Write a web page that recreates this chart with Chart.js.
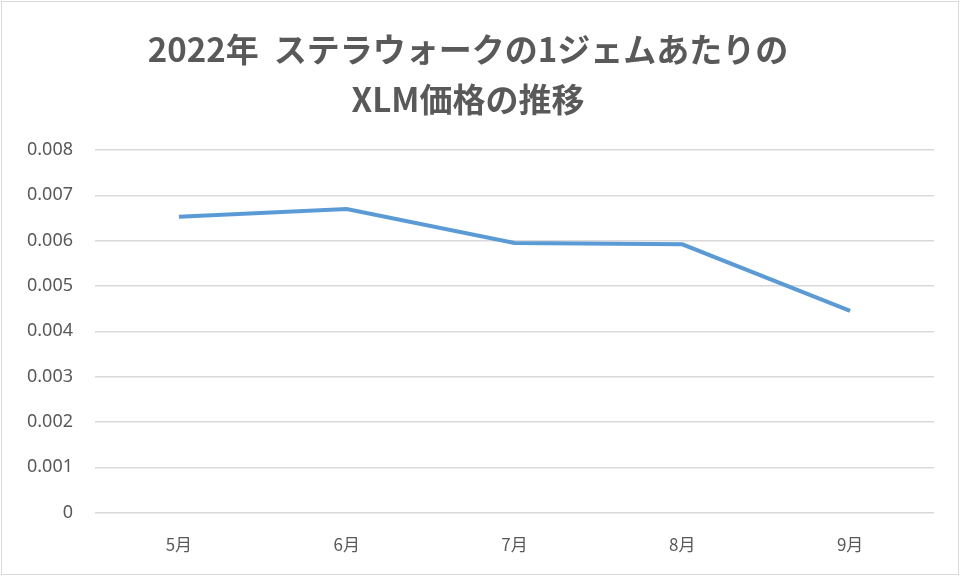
<!DOCTYPE html>
<html>
<head>
<meta charset="utf-8">
<script src="https://cdn.jsdelivr.net/npm/chart.js@4"></script>
<style>
  html, body { margin: 0; padding: 0; background: #fff; }
  #wrap { position: relative; width: 956px; height: 572px; border: 1px solid #d9d9d9; margin: 1px; }
</style>
</head>
<body>
<div id="wrap"><canvas id="xlmChart"></canvas></div>
<script>
// 2022年 ステラウォークの1ジェムあたりのXLM価格
const months = ['5月', '6月', '7月', '8月', '9月'];
const xlmPerGem = [0.00653, 0.0067, 0.00595, 0.00592, 0.00445];
const titleLines = ['2022年  ステラウォークの1ジェムあたりの', 'XLM価格の推移'];

const textColor = '#595959';
const gridColor = '#d9d9d9';

new Chart(document.getElementById('xlmChart'), {
  type: 'line',
  data: {
    labels: months,
    datasets: [{
      data: xlmPerGem,
      borderColor: '#5b9bd5',
      borderWidth: 4,
      pointRadius: 0,
      tension: 0,
      fill: false
    }]
  },
  options: {
    responsive: true,
    maintainAspectRatio: false,
    animation: false,
    layout: { padding: { left: 0, right: 24, top: 0, bottom: 5 } },
    plugins: {
      legend: { display: false },
      tooltip: { enabled: false },
      title: {
        display: true,
        text: titleLines,
        color: textColor,
        font: { family: '"Noto Sans CJK JP", "Noto Sans"', size: 33, weight: 'bold', lineHeight: 1.5 },
        padding: { top: 23, bottom: 26 }
      }
    },
    scales: {
      x: {
        offset: true,
        grid: { display: false },
        border: { display: false },
        ticks: { color: textColor, padding: 14, font: { family: '"Noto Sans CJK JP", "Noto Sans"', size: 17 } }
      },
      y: {
        min: 0,
        max: 0.008,
        afterFit(scale) { scale.width = 93; },
        grid: { color: gridColor, lineWidth: 1.5, drawTicks: false },
        border: { display: false },
        ticks: {
          stepSize: 0.001,
          padding: 22,
          color: textColor,
          font: { family: '"Noto Sans"', size: 18 },
          callback: v => v === 0 ? '0' : v.toFixed(3)
        }
      }
    }
  }
});
</script>
</body>
</html>
